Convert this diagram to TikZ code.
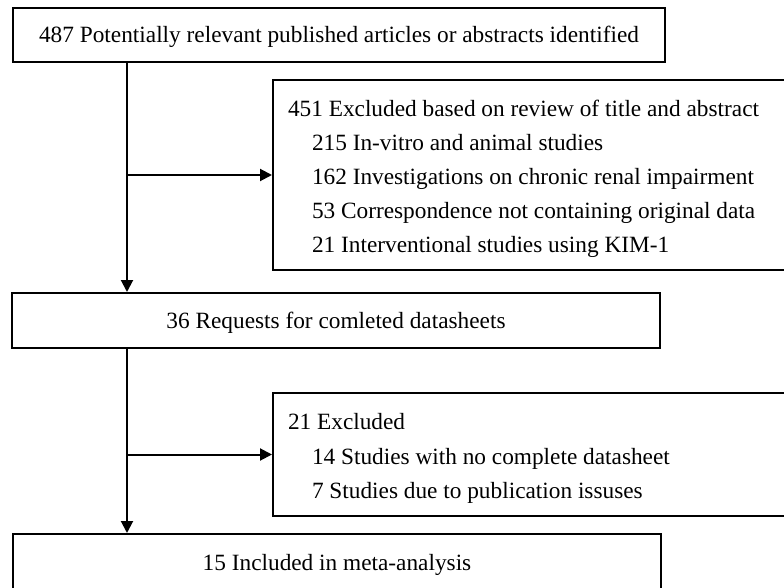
\documentclass[tikz,border=0pt]{standalone}
\usepackage{fontspec}
\setmainfont{Liberation Serif}
\usetikzlibrary{arrows.meta}
\tikzset{
  box/.style={draw, line width=2pt, inner sep=0pt, align=center,
    text height=15.5pt, text depth=0pt,
    font=\fontsize{23.3}{34.2}\selectfont},
  exbox/.style={draw, line width=2pt, inner xsep=15pt, inner ysep=0pt,
    align=flush left, text width=492pt, font=\fontsize{23.3}{34.2}\selectfont,
    execute at begin node={\rule{0pt}{24pt}}},
  arr/.style={line width=2pt, -{Triangle[length=12pt,width=12pt]}}
}
\begin{document}
\begin{tikzpicture}[x=1pt,y=-1pt]
      \useasboundingbox (0,0) rectangle (784,588);
      \clip (0,0) rectangle (784,588);
      \node[box, minimum width=652pt, minimum height=54pt] (found) at (339,35)
        {487 Potentially relevant published articles or abstracts identified};
      \node[exbox, minimum height=190pt] (excl1) at (534,175)
        {451 Excluded based on review of title and abstract\\
         \hspace*{24pt}215 In-vitro and animal studies\\
         \hspace*{24pt}162 Investigations on chronic renal impairment\\
         \hspace*{24pt}53 Correspondence not containing original data\\
         \hspace*{24pt}21 Interventional studies using KIM-1};
      \node[box, minimum width=648pt, minimum height=55pt] (req) at (336,320.5)
        {36 Requests for comleted datasheets};
      \node[exbox, minimum height=123pt] (excl2) at (534,454.5)
        {21 Excluded\\
         \hspace*{24pt}14 Studies with no complete datasheet\\
         \hspace*{24pt}7 Studies due to publication issuses};
      \node[box, minimum width=648pt, minimum height=58pt] (incl) at (337,563)
        {15 Included in meta-analysis};
      % spine of the flow chart
      \coordinate (spine) at (127,0);
      \draw[arr] (found.south -| spine) -- (req.north -| spine);
      \draw[arr] (excl1.west -| spine) -- (excl1.west);
      \draw[arr] (req.south -| spine) -- (incl.north -| spine);
      \draw[arr] (excl2.west -| spine) -- (excl2.west);
    \end{tikzpicture}
\end{document}
